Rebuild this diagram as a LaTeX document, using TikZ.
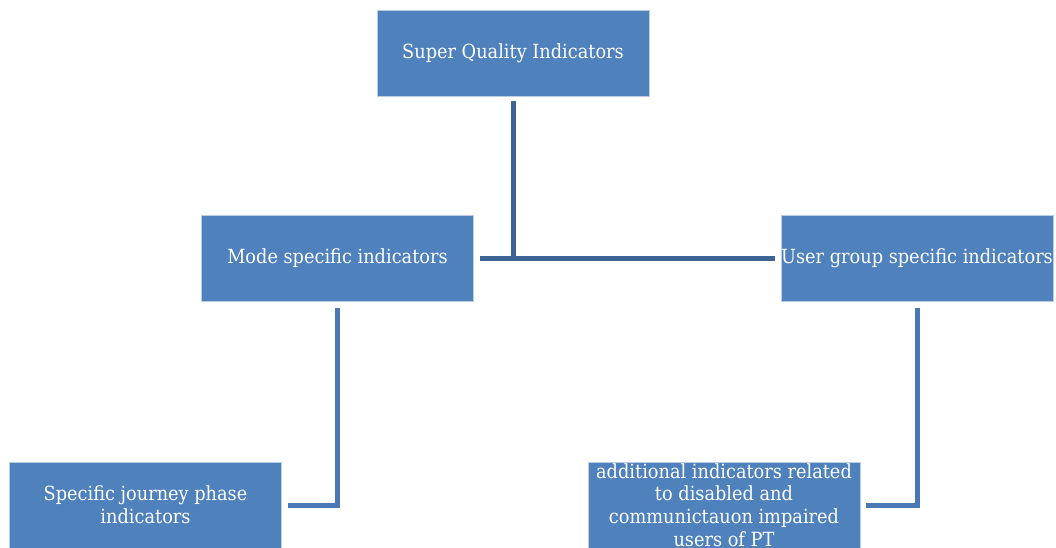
\documentclass[tikz,border=0pt]{standalone}
\usepackage{fontspec}
\setmainfont{DejaVu Serif}[FakeStretch=0.91]
\definecolor{boxblue}{HTML}{4F81BD}
\definecolor{boxedge}{HTML}{B9CDE5}
\definecolor{darkline}{HTML}{3C6494}
\definecolor{midline}{HTML}{4A78B4}
\begin{document}
\begin{tikzpicture}[x=1pt,y=-1pt,
  box/.style={draw=boxedge,line width=0.8pt,fill=boxblue,text=white,
    minimum width=272pt,minimum height=86pt,inner sep=0pt,align=center,
    font=\fontsize{19.5pt}{22.8pt}\selectfont},
  conn/.style={line width=5pt},
]
\useasboundingbox (0,0) rectangle (1056,547);
\node[box] (top) at (513,53) {Super Quality Indicators};
\node[box] (mode) at (337.5,258.5) {Mode specific indicators};
\node[box] (user) at (917,258.5) {User group specific indicators};
\node[box] (spec) at (145.5,505) {Specific journey phase\\indicators};
\node[box] (add) at (724,505) {additional indicators related\\to disabled and\\communictauon impaired\\users of PT};
\draw[conn,darkline,shorten <=5pt] (top.south) -- (top.south |- mode.east);
\draw[conn,darkline,shorten <=6pt,shorten >=6pt] (mode.east) -- (user.west);
\draw[conn,midline,shorten <=6pt,shorten >=6pt] (mode.south) |- (spec.east);
\draw[conn,midline,shorten <=6pt,shorten >=6pt] (user.south) |- (add.east);
\end{tikzpicture}
\end{document}
